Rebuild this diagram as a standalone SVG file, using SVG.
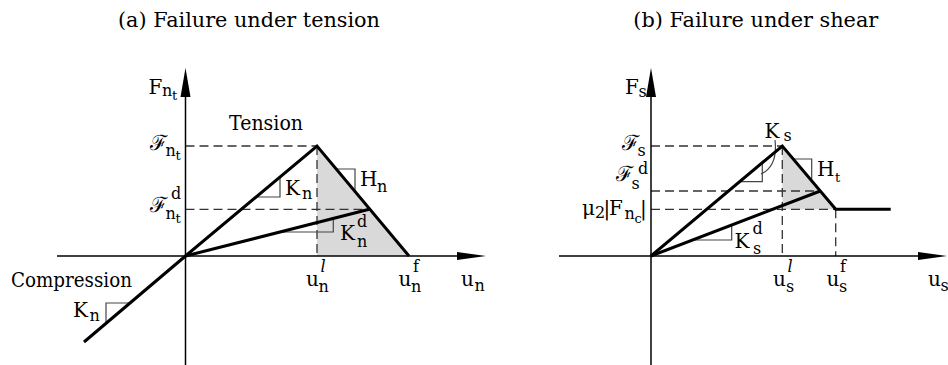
<svg xmlns="http://www.w3.org/2000/svg" width="948" height="365" viewBox="0 0 948 365" font-family="DejaVu Serif, serif">
<style>
.t{font-size:21px}
.l{font-size:20px}
.m{font-size:20px}
.s{font-size:16px}
.ss{font-size:13px}
.sc{font-size:21px}
.it{font-style:italic}
.ax{stroke:#000;stroke-width:1.5;fill:none}
.dash{stroke:#333;stroke-width:1.3;stroke-dasharray:9 5;fill:none}
.box{stroke:#444;stroke-width:1.2;fill:none}
.thick{stroke:#000;stroke-width:3;fill:none;stroke-linejoin:miter;stroke-linecap:butt}
.fill{fill:#d9d9d9;stroke:none}
</style>

<g id="panel-a">
  <g id="a-shade"><polygon class="fill" points="317,146 409,256 317,256"/></g>
  <g id="a-dashed">
    <line class="dash" x1="185.5" y1="146" x2="317" y2="146"/>
    <line class="dash" x1="185.5" y1="209.3" x2="369.3" y2="209.3"/>
    <line class="dash" x1="317" y1="146" x2="317" y2="256"/>
  </g>
  <g id="a-slopes">
    <polyline class="box" points="256,197 280,197 280,177"/>
    <polyline class="box" points="336.3,169 355,169 355,191"/>
    <polyline class="box" points="280,232 333.3,232 333.3,218.5"/>
    <polyline class="box" points="130,303 106,303 106,323.3"/>
  </g>
  <g id="a-axes">
    <line class="ax" x1="185.5" y1="96" x2="185.5" y2="365"/>
    <polygon points="185.5,68 180.5,97 190.5,97" fill="#000"/>
    <line class="ax" x1="57" y1="256" x2="458" y2="256"/>
    <polygon points="486,256 457,252 457,260" fill="#000"/>
  </g>
  <g id="a-curves">
    <polyline class="thick" points="84,342 185.5,256 317,146 409,256"/>
    <line class="thick" x1="185.5" y1="256" x2="369.3" y2="209.3"/>
  </g>
  <g id="a-labels" font-family="DejaVu Serif, serif" fill="#000">
    <text class="t" x="118" y="27" textLength="262" lengthAdjust="spacingAndGlyphs">(a) Failure under tension</text>
    <text class="l" x="229" y="130" textLength="74" lengthAdjust="spacingAndGlyphs">Tension</text>
    <text class="l" x="11" y="287" textLength="121" lengthAdjust="spacingAndGlyphs">Compression</text>
    <text><tspan class="m" x="148.5" y="94">F</tspan><tspan class="s" x="162" y="96">n</tspan><tspan class="ss" x="172" y="99.5">t</tspan></text>
    <text><tspan class="sc" x="150" y="150">ℱ</tspan><tspan class="s" x="165.5" y="156">n</tspan><tspan class="ss" x="175.5" y="160">t</tspan></text>
    <text><tspan class="sc" x="150" y="212">ℱ</tspan><tspan class="s" x="171" y="199">d</tspan><tspan class="s" x="165.5" y="218.5">n</tspan><tspan class="ss" x="175.5" y="222.5">t</tspan></text>
    <text><tspan class="m" x="285" y="195">K</tspan><tspan class="s" x="302" y="199">n</tspan></text>
    <text><tspan class="m" x="360" y="186">H</tspan><tspan class="s" x="377" y="192">n</tspan></text>
    <text><tspan class="m" x="340" y="240">K</tspan><tspan class="s" x="357" y="227">d</tspan><tspan class="s" x="357" y="246.5">n</tspan></text>
    <text><tspan class="m" x="73" y="316.5">K</tspan><tspan class="s" x="89.5" y="320.5">n</tspan></text>
    <text><tspan class="m" x="306" y="285.5">u</tspan><tspan class="s it" x="320.5" y="271.5">l</tspan><tspan class="s" x="318.5" y="291.5">n</tspan></text>
    <text><tspan class="m" x="398.5" y="285.5">u</tspan><tspan class="s" x="413" y="271.5">f</tspan><tspan class="s" x="411" y="291.5">n</tspan></text>
    <text><tspan class="m" x="461" y="285.5">u</tspan><tspan class="s" x="474.5" y="291">n</tspan></text>
  </g>
</g>

<g id="panel-b">
  <g id="b-shade"><polygon class="fill" points="782.3,146 835.7,209.3 782.3,209.3"/></g>
  <g id="b-dashed">
    <line class="dash" x1="651" y1="146" x2="782.3" y2="146"/>
    <line class="dash" x1="651" y1="191" x2="820.3" y2="191"/>
    <line class="dash" x1="651" y1="209.3" x2="835.7" y2="209.3"/>
    <line class="dash" x1="782.3" y1="146" x2="782.3" y2="256"/>
    <line class="dash" x1="835.7" y1="209.3" x2="835.7" y2="256"/>
  </g>
  <g id="b-slopes">
    <polyline class="box" points="739.7,181.7 762.3,181.7 762.3,162.8"/>
    <polyline class="box" points="793.3,159 811.7,159 811.7,180.8"/>
    <polyline class="box" points="692.7,240 731.7,240 731.7,225"/>
    <path class="box" d="M775,140 Q778,166 761,174"/>
  </g>
  <g id="b-axes">
    <line class="ax" x1="651" y1="96" x2="651" y2="365"/>
    <polygon points="651,68 646,97 656,97" fill="#000"/>
    <line class="ax" x1="559" y1="256" x2="920" y2="256"/>
    <polygon points="947,256 918,252 918,260" fill="#000"/>
  </g>
  <g id="b-curves">
    <polyline class="thick" points="651,256 782.3,146 835.7,209.3 890.7,209.3"/>
    <line class="thick" x1="651" y1="256" x2="820.3" y2="191"/>
  </g>
  <g id="b-labels" font-family="DejaVu Serif, serif" fill="#000">
    <text class="t" x="633.3" y="27" textLength="245" lengthAdjust="spacingAndGlyphs">(b) Failure under shear</text>
    <text><tspan class="m" x="625" y="94">F</tspan><tspan class="s" x="638.5" y="97">s</tspan></text>
    <text><tspan class="sc" x="622" y="150">ℱ</tspan><tspan class="s" x="637.5" y="156">s</tspan></text>
    <text><tspan class="sc" x="616" y="181">ℱ</tspan><tspan class="s" x="638" y="173.5">d</tspan><tspan class="s" x="631.5" y="188.5">s</tspan></text>
    <text><tspan class="m" x="582" y="215">μ</tspan><tspan class="s" x="595" y="218">2</tspan><tspan class="m" x="603.5" y="215">|</tspan><tspan class="m" x="609" y="215">F</tspan><tspan class="s" x="624.5" y="218.5">n</tspan><tspan class="ss" x="634.5" y="223">c</tspan><tspan class="m" x="640" y="215">|</tspan></text>
    <text><tspan class="m" x="764.5" y="137.7">K</tspan><tspan class="s" x="783.5" y="141">s</tspan></text>
    <text><tspan class="m" x="817" y="176">H</tspan><tspan class="ss" x="835" y="182">t</tspan></text>
    <text><tspan class="m" x="734.5" y="248">K</tspan><tspan class="s" x="752.5" y="234">d</tspan><tspan class="s" x="753" y="253.5">s</tspan></text>
    <text><tspan class="m" x="773" y="285.5">u</tspan><tspan class="s it" x="787.5" y="271.5">l</tspan><tspan class="s" x="786" y="291.5">s</tspan></text>
    <text><tspan class="m" x="826.5" y="285.5">u</tspan><tspan class="s" x="840" y="271.5">f</tspan><tspan class="s" x="839" y="291.5">s</tspan></text>
    <text><tspan class="m" x="928" y="285.5">u</tspan><tspan class="s" x="940.5" y="291">s</tspan></text>
  </g>
</g>
</svg>
